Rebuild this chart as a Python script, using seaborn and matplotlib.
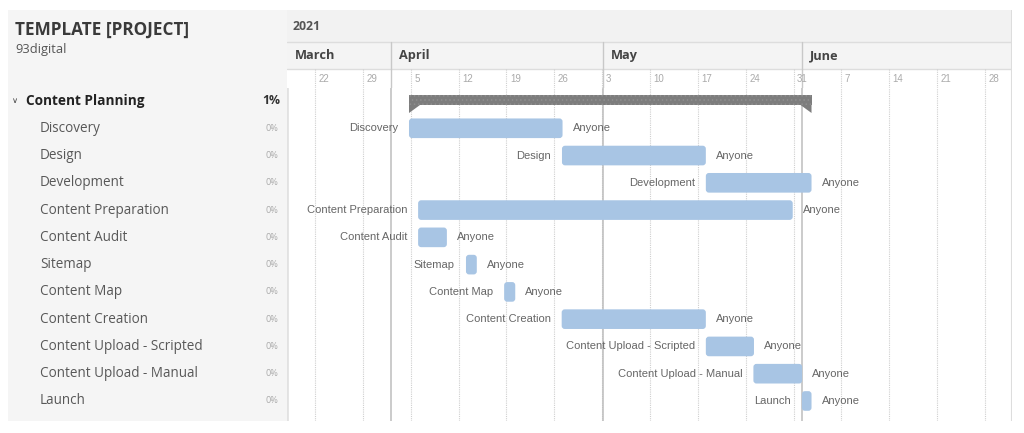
import matplotlib
matplotlib.use("Agg")
import matplotlib.pyplot as plt
import matplotlib.dates as mdates
from matplotlib.patches import FancyBboxPatch, Polygon
import pandas as pd
import seaborn as sns

# ---------------- data ----------------
project_title = "TEMPLATE [PROJECT]"
organisation = "93digital"
year_label = "2021"
group_name = "Content Planning"
group_progress = "1%"

tasks = ["Discovery", "Design", "Development", "Content Preparation", "Content Audit",
         "Sitemap", "Content Map", "Content Creation", "Content Upload - Scripted",
         "Content Upload - Manual", "Launch"]
task_progress = ["0%", "0%", "0%", "0%", "0%", "0%", "0%", "0%", "0%", "0%", "0%"]
assignees = ["Anyone", "Anyone", "Anyone", "Anyone", "Anyone", "Anyone", "Anyone",
             "Anyone", "Anyone", "Anyone", "Anyone"]
task_start = ["2021-04-04 18:00", "2021-04-27 03:00", "2021-05-18 04:00", "2021-04-06 02:00",
              "2021-04-06 02:00", "2021-04-13 02:00", "2021-04-18 16:00", "2021-04-27 02:00",
              "2021-05-18 04:00", "2021-05-25 03:00", "2021-06-01 05:00"]
task_end = ["2021-04-27 05:00", "2021-05-18 04:00", "2021-06-02 15:00", "2021-05-30 21:00",
            "2021-04-10 07:00", "2021-04-14 16:00", "2021-04-20 07:00", "2021-05-18 04:00",
            "2021-05-25 05:00", "2021-06-01 06:00", "2021-06-02 15:00"]
month_names = ["March", "April", "May", "June"]
month_edges = ["2021-03-17 22:00", "2021-04-02 03:00", "2021-05-03 03:00", "2021-06-01 06:00"]
view_range = ["2021-03-17 21:45", "2021-07-01 22:45"]

# ---------------- style ----------------
sns.set_theme(style="white")
plt.rcParams["font.family"] = ["Open Sans", "DejaVu Sans"]
plt.rcParams["hatch.linewidth"] = 0.6

W, H = 1024, 433
fig = plt.figure(figsize=(W / 100, H / 100), dpi=100)
fig.patch.set_facecolor("white")

def frac(x0, y0, x1, y1):
    return [x0 / W, 1 - y1 / H, (x1 - x0) / W, (y1 - y0) / H]

ROW_PX = 27.27
TOP_ROW_PX = 101
BODY_TOP, BODY_BOT = 88, 421
LEFT_X0, SPLIT_X, RIGHT_X = 8, 287, 1012
y_top = (BODY_TOP - TOP_ROW_PX) / ROW_PX
y_bot = (BODY_BOT - TOP_ROW_PX) / ROW_PX

starts = mdates.date2num(pd.to_datetime(task_start))
ends = mdates.date2num(pd.to_datetime(task_end))
vr = pd.to_datetime(view_range)
xlim = mdates.date2num(vr)
medges = mdates.date2num(pd.to_datetime(month_edges))

df = pd.DataFrame({"task": tasks, "start": starts, "end": ends,
                   "row": range(1, len(tasks) + 1), "who": assignees, "pct": task_progress})
df["dur"] = df["end"] - df["start"]

# ---------------- left panel ----------------
axl = fig.add_axes(frac(LEFT_X0, 10, SPLIT_X, BODY_BOT))
axl.set_facecolor("#f5f5f5")
axl.set_xlim(LEFT_X0, SPLIT_X)
axl.set_ylim(y_bot, (10 - TOP_ROW_PX) / ROW_PX)
axl.set_xticks([]); axl.set_yticks([])
for s in axl.spines.values():
    s.set_visible(False)
axl.text(15, (30 - TOP_ROW_PX) / ROW_PX, project_title, fontsize=12.3, fontweight="bold",
         color="#3a3a3a", va="center", ha="left")
axl.text(15, (50 - TOP_ROW_PX) / ROW_PX, organisation, fontsize=9.3, color="#555555",
         va="center", ha="left")
axl.text(15, 0.02, "∨", fontsize=6, color="#444444", va="center", ha="center")
axl.text(26, 0, group_name, fontsize=9.8, fontweight="bold", color="#222222",
         va="center", ha="left")
axl.text(280, 0, group_progress, fontsize=8.8, fontweight="bold", color="#333333",
         va="center", ha="right")
for _, r in df.iterrows():
    axl.text(40, r["row"], r["task"], fontsize=9.75, color="#585858", va="center", ha="left")
    axl.text(278, r["row"], r["pct"], fontsize=6.6, color="#aaaaaa", va="center", ha="right")

# ---------------- header ----------------
axh = fig.add_axes(frac(SPLIT_X, 10, RIGHT_X, BODY_TOP))
axh.set_xlim(*xlim)
axh.set_ylim(BODY_TOP, 10)
axh.set_xticks([]); axh.set_yticks([])
for s in axh.spines.values():
    s.set_visible(False)
axh.axhspan(10, 42, color="#f2f2f2", lw=0)
axh.axhspan(42, 69, color="#f4f4f4", lw=0)
axh.axhline(42, color="#dddddd", lw=1)
axh.axhline(69, color="#dddddd", lw=1)
axh.axvline(xlim[1], color="#dddddd", lw=1.5)
axh.text(xlim[0] + 0.8, 27, year_label, fontsize=8.8, fontweight="bold", color="#555555",
         va="center", ha="left")
for i, name in enumerate(month_names):
    if i > 0:
        axh.plot([medges[i], medges[i]], [42, BODY_TOP], color="#c8c8c8", lw=1)
    axh.text(medges[i] + 1.1, 55.5, name, fontsize=9.2, fontweight="bold", color="#444444",
             va="center", ha="left")

week_dates = pd.date_range(vr[0].normalize(), vr[1], freq="W-MON")
weeks = [w for w in mdates.date2num(week_dates) if xlim[0] < w < xlim[1]]
for w in weeks:
    axh.plot([w, w], [69, BODY_TOP], color="#cfcfcf", lw=0.8, ls=(0, (1, 1)))
    axh.text(w + 0.5, 79, str(mdates.num2date(w).day), fontsize=7, color="#aaaaaa",
             va="center", ha="left", family="Liberation Sans")

# ---------------- body ----------------
ax = fig.add_axes(frac(SPLIT_X, BODY_TOP, RIGHT_X, BODY_BOT))
ax.set_xlim(*xlim)
ax.set_ylim(y_bot, y_top)
ax.set_xticks([]); ax.set_yticks([])
for s in ax.spines.values():
    s.set_visible(False)
ax.axvline(xlim[1], color="#dddddd", lw=1.5)
ax.axvline(xlim[0], color="#e2e2e2", lw=2)
for w in weeks:
    ax.axvline(w, color="#cfcfcf", lw=0.8, ls=(0, (1, 1)))
for m in medges[1:]:
    ax.axvline(m, color="#bdbdbd", lw=1.1)

bar_color = "#a8c5e4"
bh = 0.72
bars = ax.barh(df["row"], df["dur"], left=df["start"], height=bh, color=bar_color, lw=0)
px_day = (RIGHT_X - SPLIT_X) / (xlim[1] - xlim[0])
aspect = px_day / ROW_PX
for p in bars.patches:
    x0, y0 = p.get_xy()
    p.set_visible(False)
    ax.add_patch(FancyBboxPatch((x0, y0), p.get_width(), p.get_height(),
                                boxstyle="round,pad=0,rounding_size=0.45",
                                mutation_aspect=aspect, fc=bar_color, ec="none", zorder=3))

lbl_font = dict(fontsize=8.0, color="#666666", va="center", family="Liberation Sans", zorder=4)
gap_l = 11 / px_day
gap_r = 10 / px_day
for _, r in df.iterrows():
    ax.text(r["start"] - gap_l, r["row"], r["task"], ha="right", **lbl_font)
    ax.text(r["end"] + gap_r, r["row"], r["who"], ha="left", **lbl_font)

# summary bar for the group
g_start, g_end = df["start"].min(), df["end"].max()
sb_top, sb_bot, hook_tip = (95 - TOP_ROW_PX) / ROW_PX, (105 - TOP_ROW_PX) / ROW_PX, (113 - TOP_ROW_PX) / ROW_PX
ax.barh([(sb_top + sb_bot) / 2], [g_end - g_start], left=g_start, height=sb_bot - sb_top,
        color="#7d7d7d", edgecolor="#8f8f8f", hatch="....", lw=0, zorder=3)
hook = 11 / px_day
ax.add_patch(Polygon([(g_start, sb_bot), (g_start + hook, sb_bot), (g_start, hook_tip)],
                     closed=True, fc="#7d7d7d", ec="none", zorder=3))
ax.add_patch(Polygon([(g_end, sb_bot), (g_end - hook, sb_bot), (g_end, hook_tip)],
                     closed=True, fc="#7d7d7d", ec="none", zorder=3))

fig.savefig("out.png", dpi=100, facecolor="white")
